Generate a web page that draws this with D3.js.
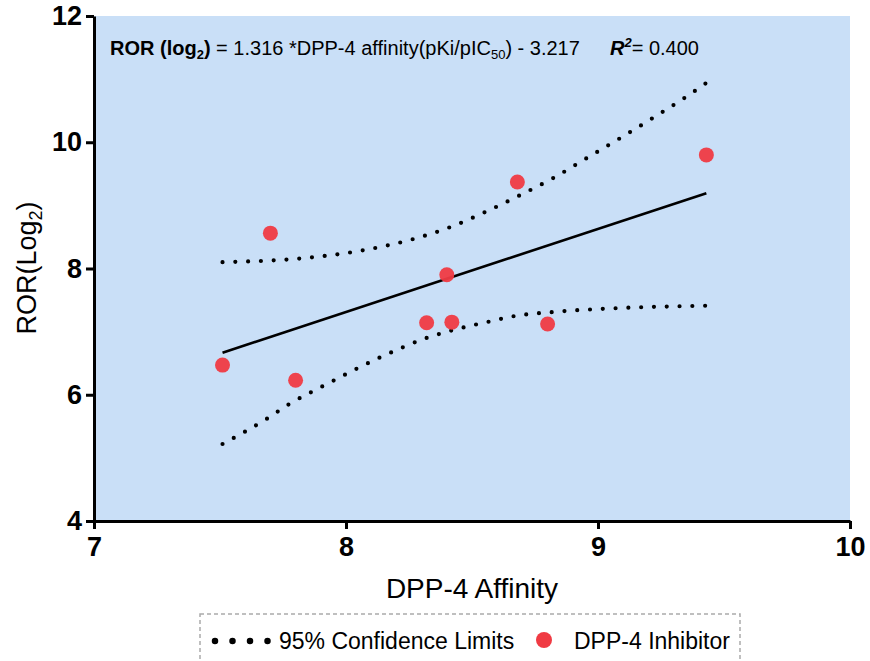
<!DOCTYPE html>
<html><head><meta charset="utf-8">
<script src="https://cdn.jsdelivr.net/npm/d3@7"></script>
<style>body{margin:0;background:#fff;}svg{display:block;font-family:Arial,"Liberation Sans",sans-serif;}</style>
</head><body>
<svg id="c" width="870" height="661"></svg>
<script>
// Data
const affinity = [7.51, 7.70, 7.80, 8.32, 8.40, 8.42, 8.68, 8.80, 9.43];
const ror      = [6.47, 8.56, 6.23, 7.14, 7.90, 7.15, 9.37, 7.12, 9.80];
const fitX = [7.51, 9.43];
const fitY = [6.666, 9.193];
const upperX = [7.51, 7.82, 8.07, 8.27, 8.41, 8.55, 8.69, 8.83, 8.96, 9.09, 9.22, 9.35, 9.43];
const upperY = [8.10, 8.16, 8.29, 8.47, 8.65, 8.89, 9.16, 9.45, 9.76, 10.07, 10.39, 10.72, 10.94];
const lowerX = [7.51, 7.69, 7.77, 7.91, 8.14, 8.32, 8.47, 8.57, 8.66, 8.82, 9.07, 9.43];
const lowerY = [5.22, 5.63, 5.84, 6.14, 6.60, 6.90, 7.07, 7.16, 7.24, 7.31, 7.37, 7.41];
const xTicks = [7, 8, 9, 10];
const yTicks = [4, 6, 8, 10, 12];

const FONT = "Arial,'Liberation Sans',sans-serif";
const svg = d3.select("#c");
const x = d3.scaleLinear().domain([7, 10]).range([94, 850]);
const y = d3.scaleLinear().domain([4, 12]).range([521, 16]);

svg.append("rect").attr("x", x(7)).attr("y", y(12)).attr("width", x(10)-x(7)).attr("height", y(4)-y(12)).attr("fill", "#c9dff7");

// axes
const xa = svg.append("g").attr("transform", `translate(0,${y(4)})`)
  .call(d3.axisBottom(x).tickValues(xTicks).tickFormat(d3.format("d")).tickSize(8).tickSizeOuter(0));
const ya = svg.append("g").attr("transform", `translate(${x(7)},0)`)
  .call(d3.axisLeft(y).tickValues(yTicks).tickFormat(d3.format("d")).tickSize(8).tickSizeOuter(0));
[xa, ya].forEach(g => {
  g.select(".domain").attr("stroke", "#000").attr("stroke-width", 3);
  g.selectAll(".tick line").attr("stroke", "#000").attr("stroke-width", 3);
  g.selectAll(".tick text").attr("fill", "#000").attr("font-size", 27).attr("font-weight", "bold")
   .attr("font-family", FONT);
});
xa.selectAll(".tick text").attr("dy", "0.9em");
ya.selectAll(".tick text").attr("dx", "-1px");

// confidence bands
const line = d3.line().x(d => x(d[0])).y(d => y(d[1])).curve(d3.curveMonotoneX);
[[upperX, upperY], [lowerX, lowerY]].forEach(([xs, ys]) => {
  svg.append("path").attr("d", line(xs.map((v, i) => [v, ys[i]])))
    .attr("fill", "none").attr("stroke", "#000").attr("stroke-width", 4.2)
    .attr("stroke-linecap", "round").attr("stroke-dasharray", "0 12.8");
});
// fit line
svg.append("path").attr("d", d3.line().x(d => x(d[0])).y(d => y(d[1]))(fitX.map((v, i) => [v, fitY[i]])))
  .attr("fill", "none").attr("stroke", "#000").attr("stroke-width", 2.6);

// points
svg.selectAll("circle.pt").data(affinity.map((v, i) => [v, ror[i]])).join("circle")
  .attr("class", "pt").attr("cx", d => x(d[0])).attr("cy", d => y(d[1])).attr("r", 7.5)
  .attr("fill", "#f03a43").attr("fill-opacity", 0.95);

// equation
const eq = svg.append("text").attr("x", 110).attr("y", 55).attr("font-size", 20).attr("fill", "#000").attr("font-family", FONT);
eq.append("tspan").attr("font-weight", "bold").text("ROR (log");
eq.append("tspan").attr("font-weight", "bold").attr("font-size", 13).attr("dy", 4).text("2");
eq.append("tspan").attr("font-weight", "bold").attr("dy", -4).text(")");
eq.append("tspan").text(" = 1.316 *DPP-4 affinity(pKi/pIC");
eq.append("tspan").attr("font-size", 13).attr("dy", 4).text("50");
eq.append("tspan").attr("dy", -4).text(") - 3.217");
const r2 = svg.append("text").attr("x", 610).attr("y", 55).attr("font-size", 20).attr("fill", "#000").attr("font-family", FONT);
r2.append("tspan").attr("font-weight", "bold").attr("font-style", "italic").text("R");
r2.append("tspan").attr("font-weight", "bold").attr("font-style", "italic").attr("font-size", 13).attr("dy", -8).text("2");
r2.append("tspan").attr("dy", 8).text("= 0.400");

// axis titles
svg.append("text").attr("x", 472).attr("y", 598).attr("text-anchor", "middle").attr("font-size", 28).attr("fill", "#000").attr("font-family", FONT).text("DPP-4 Affinity");
const yt = svg.append("text").attr("transform", "translate(36,268) rotate(-90)").attr("text-anchor", "middle").attr("font-size", 27).attr("fill", "#000").attr("font-family", FONT);
yt.append("tspan").text("ROR(Log");
yt.append("tspan").attr("font-size", 18).attr("dy", 6).text("2");
yt.append("tspan").attr("dy", -6).text(")");

// legend
svg.append("rect").attr("x", 200).attr("y", 614).attr("width", 540).attr("height", 60)
  .attr("fill", "none").attr("stroke", "#aaa").attr("stroke-width", 1.5).attr("stroke-dasharray", "4 3");
svg.append("line").attr("x1", 215).attr("x2", 268).attr("y1", 641).attr("y2", 641)
  .attr("stroke", "#000").attr("stroke-width", 6.5).attr("stroke-linecap", "round").attr("stroke-dasharray", "0 17.5");
svg.append("text").attr("x", 279).attr("y", 649).attr("font-size", 23).attr("fill", "#000").attr("font-family", FONT).text("95% Confidence Limits");
svg.append("circle").attr("cx", 544).attr("cy", 640).attr("r", 8).attr("fill", "#f03a43");
svg.append("text").attr("x", 574).attr("y", 649).attr("font-size", 23).attr("fill", "#000").attr("font-family", FONT).text("DPP-4 Inhibitor");
</script>
</body></html>
